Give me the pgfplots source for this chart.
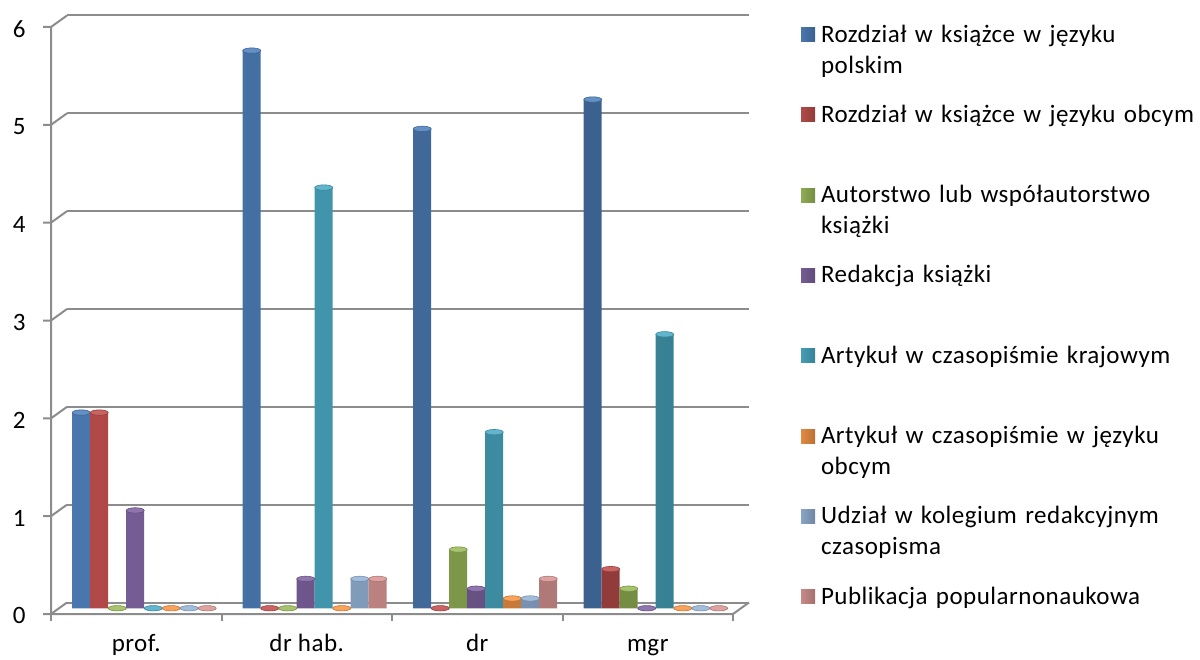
\documentclass[border=0pt]{standalone}
\usepackage{pgfplots}
\pgfplotsset{compat=1.18}
\usepackage{pgfplotstable}
\usepackage{fontspec}
\setmainfont{Carlito}[LetterSpace=2.0]
\definecolor{c1}{HTML}{4F81BD}
\definecolor{c2}{HTML}{C0504D}
\definecolor{c3}{HTML}{9BBB59}
\definecolor{c4}{HTML}{8064A2}
\definecolor{c5}{HTML}{4BACC6}
\definecolor{c6}{HTML}{F79646}
\definecolor{c7}{HTML}{95B3D7}
\definecolor{c8}{HTML}{D99694}
\definecolor{gridc}{HTML}{8C8C8C}

\pgfplotstableread{
cat s1 s2 s3 s4 s5 s6 s7 s8
0 2 2 0 1 0 0 0 0
1 5.7 0 0 0.3 4.3 0 0.3 0.3
2 4.9 0 0.6 0.2 1.8 0.1 0.1 0.3
3 5.2 0.4 0.2 0 2.8 0 0 0
}\datatable

\pgfplotsset{
  cyl/.style 2 args={draw=none, left color=#1!92!black, middle color=#1!85!white, right color=#1!75!black,
    mark=*, mark size=4.5pt,
    mark options={draw=#1!78!black, fill=#1!88!white, line width=0.3pt, xshift=#2, yscale=0.3},
    legend image code/.code={\fill[#1] (0pt,0.25pt) rectangle (7pt,7.25pt);}},
}

\begin{document}
\begin{tikzpicture}
\useasboundingbox (0,0) rectangle (600pt,329.5pt);
\begin{axis}[
  at={(29.5pt,25.375pt)}, anchor=south west,
  scale only axis, width=341pt, height=293.5pt,
  xmin=-0.5, xmax=3.5, ymin=0, ymax=6,
  ybar=0pt, bar width=9pt,
  clip=false,
  axis line style={draw=none},
  major tick length=0pt,
  xtick={0,1,2,3},
  xticklabels={prof.,dr hab.,dr,mgr},
  ytick={0,1,2,3,4,5,6},
  ymajorgrids,
  major grid style={draw=gridc, line width=1pt, xshift=4pt, yshift=2.875pt},
  /pgf/number format/assume math mode=true,
  ticklabel style={font=\fontsize{12.5}{15}\selectfont},
  yticklabel style={anchor=east, inner sep=0pt, xshift=-16.5pt, yshift=-3.8pt},
  xticklabel style={anchor=base, xshift=-4pt, yshift=-21.6pt},
  legend style={at={(axis description cs:1.088,0.9987)}, anchor=north west,
    draw=none, fill=none, inner sep=0pt, outer sep=0pt, row sep=0pt, column sep=3pt,
    font=\fontsize{12.5}{15.5}\selectfont,
    nodes={inner sep=0pt, outer sep=0pt, text width=220pt, align=left, text height=10pt, text depth=30.15pt, anchor=base west}},
]
\addplot[cyl={c1}{-31.5pt}] table[x=cat,y=s1]{\datatable};
\addlegendentry{Rozdział w książce w języku\\polskim}
\addplot[cyl={c2}{-22.5pt}] table[x=cat,y=s2]{\datatable};
\addlegendentry{Rozdział w książce w języku obcym}
\addplot[cyl={c3}{-13.5pt}] table[x=cat,y=s3]{\datatable};
\addlegendentry{Autorstwo lub współautorstwo\\książki}
\addplot[cyl={c4}{-4.5pt}] table[x=cat,y=s4]{\datatable};
\addlegendentry{Redakcja książki}
\addplot[cyl={c5}{4.5pt}] table[x=cat,y=s5]{\datatable};
\addlegendentry{Artykuł w czasopiśmie krajowym}
\addplot[cyl={c6}{13.5pt}] table[x=cat,y=s6]{\datatable};
\addlegendentry{Artykuł w czasopiśmie w języku\\obcym}
\addplot[cyl={c7}{22.5pt}] table[x=cat,y=s7]{\datatable};
\addlegendentry{Udział w kolegium redakcyjnym\\czasopisma}
\addplot[cyl={c8}{31.5pt}] table[x=cat,y=s8]{\datatable};
\addlegendentry{Publikacja popularnonaukowa}

% front/back frame (front offset: -0.0469 x-units, -0.0588 y-units; back: +)
\pgfplotsinvokeforeach{0,1,2,3,4,5,6}{
  \draw[gridc, line width=1pt] (axis cs:-0.5938,#1-0.0588) -- (axis cs:-0.5469,#1-0.0588) -- (axis cs:-0.4531,#1+0.0588);
}
\pgfplotsinvokeforeach{-0.5469,0.4531,1.4531,2.4531,3.4531}{
  \draw[gridc, line width=1pt] (axis cs:#1,-0.0588) -- (axis cs:#1,-0.1304);
}
\draw[gridc, line width=1pt] (axis cs:-0.5469,5.9412) -- (axis cs:-0.5469,-0.0588)
  -- (axis cs:3.4531,-0.0588) -- (axis cs:3.5469,0.0588);
\end{axis}
\end{tikzpicture}
\end{document}
